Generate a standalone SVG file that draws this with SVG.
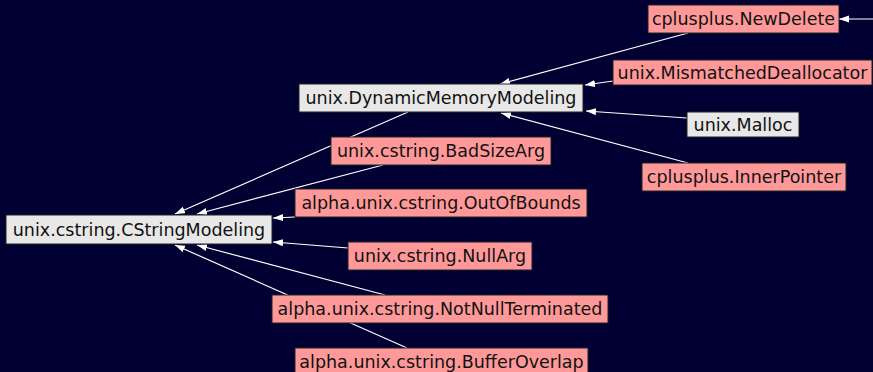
<svg xmlns="http://www.w3.org/2000/svg" width="873" height="372" viewBox="0 0 873 372">
<style>
.bg{fill:#000033}
.edge{stroke:#ffffff;stroke-width:1.2;fill:none;marker-end:url(#arr)}
.n rect{stroke:#222222;stroke-width:1}
.pink rect{fill:#ff9999}
.grey rect{fill:#e8e8e8}
.n text{font-family:"DejaVu Sans",sans-serif;font-size:17.5px;fill:#111111;text-anchor:middle}
</style>
<defs>
<marker id="arr" markerUnits="userSpaceOnUse" markerWidth="11" markerHeight="8" refX="10" refY="3.5" orient="auto">
<path d="M0,0 L10,3.5 L0,7 z" fill="#ffffff"/>
</marker>
</defs>
<rect class="bg" x="0" y="0" width="873" height="372"/>
<g id="connectors">
<path class="edge" d="M873,19 L839,19"/>
<path class="edge" d="M688,33 L500,84"/>
<path class="edge" d="M613,81 L585,85"/>
<path class="edge" d="M687,118 L586,111"/>
<path class="edge" d="M688,163 L501,113"/>
<path class="edge" d="M408,112 L175,214"/>
<path class="edge" d="M383,165 L197,214"/>
<path class="edge" d="M295,217 L273,218"/>
<path class="edge" d="M348,248 L273,242"/>
<path class="edge" d="M385,295 L197,245"/>
<path class="edge" d="M407,348 L175,245"/>
</g>
<g id="cplusplus_NewDelete" class="n pink"><rect x="648" y="5" width="191" height="28"/><text x="743.5" y="25">cplusplus.NewDelete</text></g>
<g id="unix_MismatchedDeallocator" class="n pink"><rect x="613" y="60" width="259" height="25"/><text x="742.5" y="78.5">unix.MismatchedDeallocator</text></g>
<g id="unix_DynamicMemoryModeling" class="n grey"><rect x="299" y="84" width="284" height="28"/><text x="441" y="104">unix.DynamicMemoryModeling</text></g>
<g id="unix_Malloc" class="n grey"><rect x="687" y="112" width="112" height="25"/><text x="743" y="130.5">unix.Malloc</text></g>
<g id="cplusplus_InnerPointer" class="n pink"><rect x="642" y="163" width="204" height="28"/><text x="744" y="183">cplusplus.InnerPointer</text></g>
<g id="unix_cstring_BadSizeArg" class="n pink"><rect x="331" y="137" width="220" height="28"/><text x="441" y="157">unix.cstring.BadSizeArg</text></g>
<g id="alpha_unix_cstring_OutOfBounds" class="n pink"><rect x="295" y="189" width="292" height="28"/><text x="441" y="209">alpha.unix.cstring.OutOfBounds</text></g>
<g id="unix_cstring_CStringModeling" class="n grey"><rect x="6" y="215" width="266" height="29"/><text x="139" y="235.5">unix.cstring.CStringModeling</text></g>
<g id="unix_cstring_NullArg" class="n pink"><rect x="348" y="242" width="184" height="28"/><text x="440" y="262">unix.cstring.NullArg</text></g>
<g id="alpha_unix_cstring_NotNullTerminated" class="n pink"><rect x="272" y="295" width="336" height="28"/><text x="440" y="315">alpha.unix.cstring.NotNullTerminated</text></g>
<g id="alpha_unix_cstring_BufferOverlap" class="n pink"><rect x="295" y="348" width="293" height="28"/><text x="441.5" y="368">alpha.unix.cstring.BufferOverlap</text></g>
</svg>
